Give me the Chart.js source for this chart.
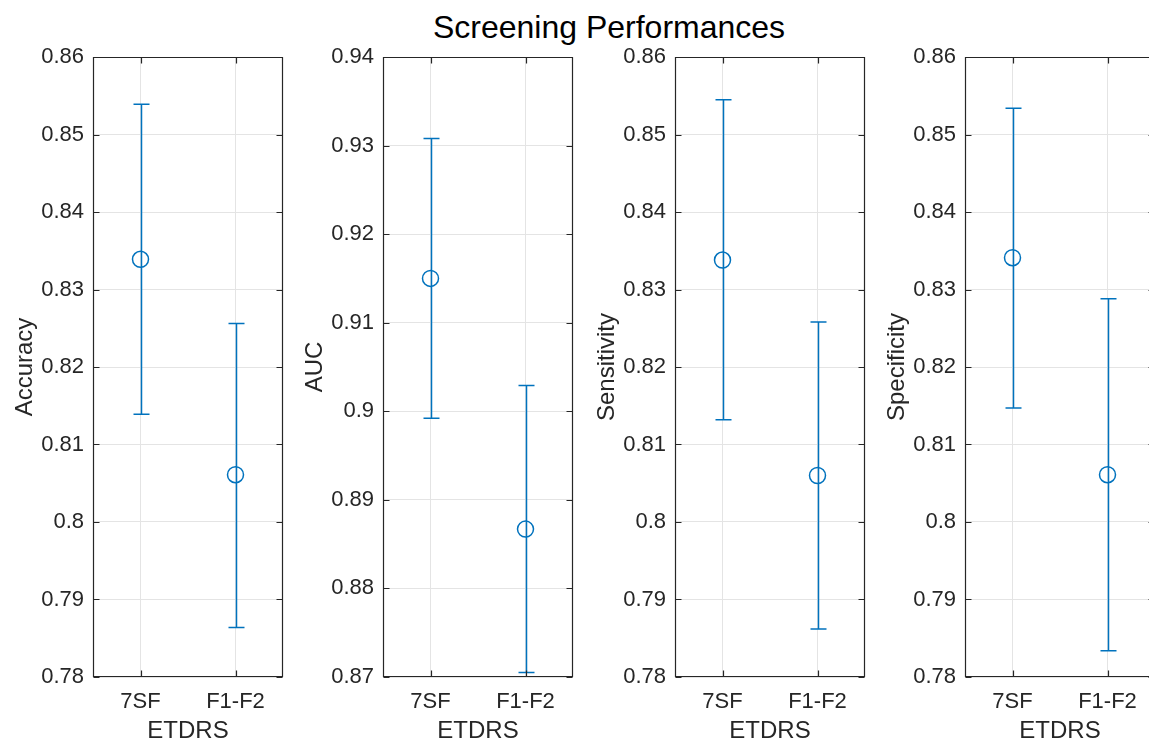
<!DOCTYPE html>
<html><head><meta charset="utf-8">
<script src="https://cdn.jsdelivr.net/npm/chart.js@4.4.1/dist/chart.umd.min.js"></script>
<style>
html,body{margin:0;padding:0;background:#fff;overflow:hidden;width:1149px;height:743px;}
#wrap{position:relative;width:1149px;height:743px;overflow:hidden;background:#fff;}
canvas{position:absolute;top:0;}
#title{position:absolute;left:609px;top:9px;transform:translateX(-50%);white-space:nowrap;
  font-family:"Liberation Sans",Arial,Helvetica,sans-serif;font-size:32px;color:#000;line-height:36px;}
</style></head>
<body><div id="wrap">
<div id="title">Screening Performances</div>
<canvas id="c0" width="295" height="743"></canvas>
<canvas id="c1" width="295" height="743"></canvas>
<canvas id="c2" width="295" height="743"></canvas>
<canvas id="c3" width="295" height="743"></canvas>
</div>
<script>
const categories = ['7SF', 'F1-F2'];
const xAxisLabel = 'ETDRS';

const accuracyMean = [0.8339, 0.8061];
const accuracyLow  = [0.8139, 0.7864];
const accuracyHigh = [0.8539, 0.8256];
const accuracyTicks = [0.78, 0.79, 0.80, 0.81, 0.82, 0.83, 0.84, 0.85, 0.86];

const aucMean = [0.9150, 0.8867];
const aucLow  = [0.8992, 0.8705];
const aucHigh = [0.9308, 0.9029];
const aucTicks = [0.87, 0.88, 0.89, 0.90, 0.91, 0.92, 0.93, 0.94];

const sensitivityMean = [0.8338, 0.8060];
const sensitivityLow  = [0.8132, 0.7862];
const sensitivityHigh = [0.8545, 0.8258];
const sensitivityTicks = [0.78, 0.79, 0.80, 0.81, 0.82, 0.83, 0.84, 0.85, 0.86];

const specificityMean = [0.8341, 0.8061];
const specificityLow  = [0.8147, 0.7834];
const specificityHigh = [0.8534, 0.8288];
const specificityTicks = [0.78, 0.79, 0.80, 0.81, 0.82, 0.83, 0.84, 0.85, 0.86];

const panels = [
  {label: 'Accuracy',    mean: accuracyMean,    low: accuracyLow,    high: accuracyHigh,    ticks: accuracyTicks},
  {label: 'AUC',         mean: aucMean,         low: aucLow,         high: aucHigh,         ticks: aucTicks},
  {label: 'Sensitivity', mean: sensitivityMean, low: sensitivityLow, high: sensitivityHigh, ticks: sensitivityTicks},
  {label: 'Specificity', mean: specificityMean, low: specificityLow, high: specificityHigh, ticks: specificityTicks}
];

const plotLefts = [93, 383, 675, 965];
const FONT = '"Liberation Sans", Arial, Helvetica, sans-serif';
const AXC = '#262626';
const BLUE = '#0072BD';
const fmt = v => String(parseFloat(Number(v).toFixed(2)));

function makeFramePlugin(p) {
  return {
    id: 'frame',
    beforeDatasetsDraw(chart) {
      const {ctx, chartArea: a, scales: {x, y}} = chart;
      ctx.save();
      // error bars
      ctx.strokeStyle = BLUE;
      ctx.lineWidth = 1.5;
      p.mean.forEach((m, i) => {
        const px = Math.round(x.getPixelForValue(i + 1)) + 0.5;
        const yl = y.getPixelForValue(p.low[i]);
        const yh = y.getPixelForValue(p.high[i]);
        ctx.beginPath();
        ctx.moveTo(px, yl); ctx.lineTo(px, yh);
        ctx.moveTo(px - 8, yl); ctx.lineTo(px + 8, yl);
        ctx.moveTo(px - 8, yh); ctx.lineTo(px + 8, yh);
        ctx.stroke();
      });
      // box
      ctx.strokeStyle = AXC;
      ctx.lineWidth = 1.2;
      const L = Math.round(a.left) + 0.5, R = Math.round(a.right) - 0.5;
      const T = Math.round(a.top) + 0.5, B = Math.round(a.bottom) - 0.5;
      ctx.beginPath();
      ctx.rect(L, T, R - L, B - T);
      // inner ticks
      const tl = 6;
      p.ticks.forEach(v => {
        const py = Math.round(y.getPixelForValue(v)) + 0.5;
        ctx.moveTo(L, py); ctx.lineTo(L + tl, py);
        ctx.moveTo(R, py); ctx.lineTo(R - tl, py);
      });
      categories.forEach((c, i) => {
        const px = Math.round(x.getPixelForValue(i + 1)) + 0.5;
        ctx.moveTo(px, B); ctx.lineTo(px, B - tl);
        ctx.moveTo(px, T); ctx.lineTo(px, T + tl);
      });
      ctx.stroke();
      ctx.restore();
    }
  };
}

panels.forEach((p, k) => {
  const cv = document.getElementById('c' + k);
  cv.style.left = (plotLefts[k] - 93) + 'px';
  new Chart(cv, {
    type: 'scatter',
    data: {
      datasets: [{
        data: categories.map((c, i) => ({x: i + 1, y: p.mean[i]})),
        pointStyle: 'circle',
        pointRadius: 8,
        pointHoverRadius: 8,
        borderColor: BLUE,
        backgroundColor: 'rgba(0,0,0,0)',
        borderWidth: 1.5,
        clip: false
      }]
    },
    options: {
      responsive: false,
      animation: false,
      devicePixelRatio: 1,
      events: [],
      layout: {padding: {top: 57, right: 12, bottom: 0, left: 0}},
      plugins: {legend: {display: false}, tooltip: {enabled: false}},
      scales: {
        x: {
          type: 'linear', min: 0.5, max: 2.5,
          afterBuildTicks: s => { s.ticks = categories.map((c, i) => ({value: i + 1})); },
          afterFit: s => { s.height = 66; },
          ticks: {
            callback: v => categories[Math.round(v) - 1],
            color: AXC, font: {family: FONT, size: 22}, padding: 12,
            maxRotation: 0, autoSkip: false
          },
          grid: {color: '#e4e4e4', lineWidth: 1, drawTicks: false},
          border: {display: false},
          title: {display: true, text: xAxisLabel, color: AXC, font: {family: FONT, size: 24, lineHeight: 1}, padding: {top: 0, bottom: 0}}
        },
        y: {
          type: 'linear', min: p.ticks[0], max: p.ticks[p.ticks.length - 1],
          afterBuildTicks: s => { s.ticks = p.ticks.map(v => ({value: v})); },
          afterFit: s => { s.width = 93; },
          ticks: {
            callback: v => fmt(v),
            color: AXC, font: {family: FONT, size: 22}, padding: 9, autoSkip: false
          },
          grid: {color: '#e4e4e4', lineWidth: 1, drawTicks: false},
          border: {display: false},
          title: {display: true, text: p.label, color: AXC, font: {family: FONT, size: 24}, padding: {top: 11, bottom: 0}}
        }
      }
    },
    plugins: [makeFramePlugin(p)]
  });
});
</script>
</body></html>
